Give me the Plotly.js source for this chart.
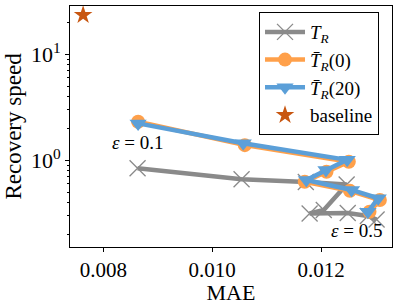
<!DOCTYPE html>
<html>
<head>
<meta charset="utf-8">
<script src="https://cdn.plot.ly/plotly-3.0.1.min.js"></script>
<style>html,body{margin:0;padding:0;background:#fff;}#chart{width:399px;height:305px;}</style>
</head>
<body>
<div id="chart"></div>
<script>
// Data
const trMAE   = [0.00863, 0.01054, 0.01172, 0.01247, 0.01205, 0.01179, 0.01249, 0.01286, 0.01302];
const trSpeed = [0.840, 0.663, 0.624, 0.591, 0.340, 0.315, 0.318, 0.298, 0.276];

const tr0MAE   = [0.00864, 0.01060, 0.01251, 0.01210, 0.01170, 0.01253, 0.01308, 0.01289];
const tr0Speed = [2.31, 1.39, 0.97, 0.78, 0.628, 0.515, 0.422, 0.327];

const tr20MAE   = [0.00864, 0.01057, 0.01248, 0.01209, 0.01173, 0.01256, 0.01305, 0.01286];
const tr20Speed = [2.23, 1.45, 1.01, 0.81, 0.652, 0.525, 0.438, 0.327];

const baseMAE = [0.00763];
const baseSpeed = [23.5];

const seriesNames = ['<i>T</i><sub><i>R</i></sub>', '<i>T\u0304</i><sub><i>R</i></sub>(0)', '<i>T\u0304</i><sub><i>R</i></sub>(20)', 'baseline'];
const xTickVals = [0.008, 0.010, 0.012];
const xTickText = ['0.008', '0.010', '0.012'];
const yTickVals = [1, 10];
const yTickText = ['10<sup>0</sup>', '10<sup>1</sup>'];
const yMinorVals = [0.2,0.3,0.4,0.5,0.6,0.7,0.8,0.9,2,3,4,5,6,7,8,9,20];

const serif = '"Liberation Serif", "Times New Roman", serif';
const gray = '#8a8a8a', orange = '#ffa04a', blue = '#5b9fd8', star = '#c85610';

const traces = [
  {x: trMAE, y: trSpeed, name: seriesNames[0], mode: 'lines+markers',
   line: {color: gray, width: 4.5},
   marker: {symbol: 'x-thin', size: 16, color: gray, line: {color: gray, width: 1.3}}},
  {x: tr0MAE, y: tr0Speed, name: seriesNames[1], mode: 'lines+markers',
   line: {color: orange, width: 4.5},
   marker: {symbol: 'circle', size: 14, color: orange}},
  {x: tr20MAE, y: tr20Speed, name: seriesNames[2], mode: 'lines+markers',
   line: {color: blue, width: 4.5},
   marker: {symbol: 'triangle-down', size: 15, color: blue}},
  {x: baseMAE, y: baseSpeed, name: seriesNames[3], mode: 'markers',
   marker: {symbol: 'star', size: 14, color: star}}
];

const layout = {
  width: 399, height: 305,
  margin: {l: 70, r: 7, t: 6, b: 58},
  paper_bgcolor: '#fff', plot_bgcolor: '#fff',
  font: {family: serif, color: '#000', size: 21},
  showlegend: true,
  legend: {x: 0.587, y: 0.975, xanchor: 'left', yanchor: 'top',
    bgcolor: '#fff', bordercolor: '#000', borderwidth: 1,
    font: {family: serif, size: 19}, itemwidth: 40, tracegroupgap: 0},
  xaxis: {
    range: [0.007389, 0.013303],
    tickmode: 'array', tickvals: xTickVals, ticktext: xTickText,
    ticks: 'outside', ticklen: 4, tickcolor: '#000', tickwidth: 1,
    showline: true, linecolor: '#000', linewidth: 1, mirror: true,
    showgrid: false, zeroline: false,
    tickfont: {family: serif, size: 21},
    title: {text: 'MAE', font: {family: serif, size: 22}, standoff: 1}
  },
  yaxis: {
    type: 'log', range: [-0.818, 1.456],
    tickmode: 'array', tickvals: yTickVals, ticktext: yTickText,
    ticks: 'outside', ticklen: 4, tickcolor: '#000', tickwidth: 1,
    minor: {tickmode: 'array', tickvals: yMinorVals, ticks: 'outside', ticklen: 2, tickcolor: '#000', showgrid: false},
    showline: true, linecolor: '#000', linewidth: 1, mirror: true,
    showgrid: false, zeroline: false,
    tickfont: {family: serif, size: 22},
    title: {text: 'Recovery speed', font: {family: serif, size: 23}, standoff: 2}
  },
  annotations: [
    {x: 0.00862, y: Math.log10(1.46), xref: 'x', yref: 'y', text: '<i>ε</i> = 0.1', showarrow: false,
     font: {family: serif, size: 19}},
    {x: 0.01266, y: Math.log10(0.218), xref: 'x', yref: 'y', text: '<i>ε</i> = 0.5', showarrow: false,
     font: {family: serif, size: 19}}
  ]
};

Plotly.newPlot('chart', traces, layout, {displayModeBar: false, staticPlot: true});
</script>
</body>
</html>
